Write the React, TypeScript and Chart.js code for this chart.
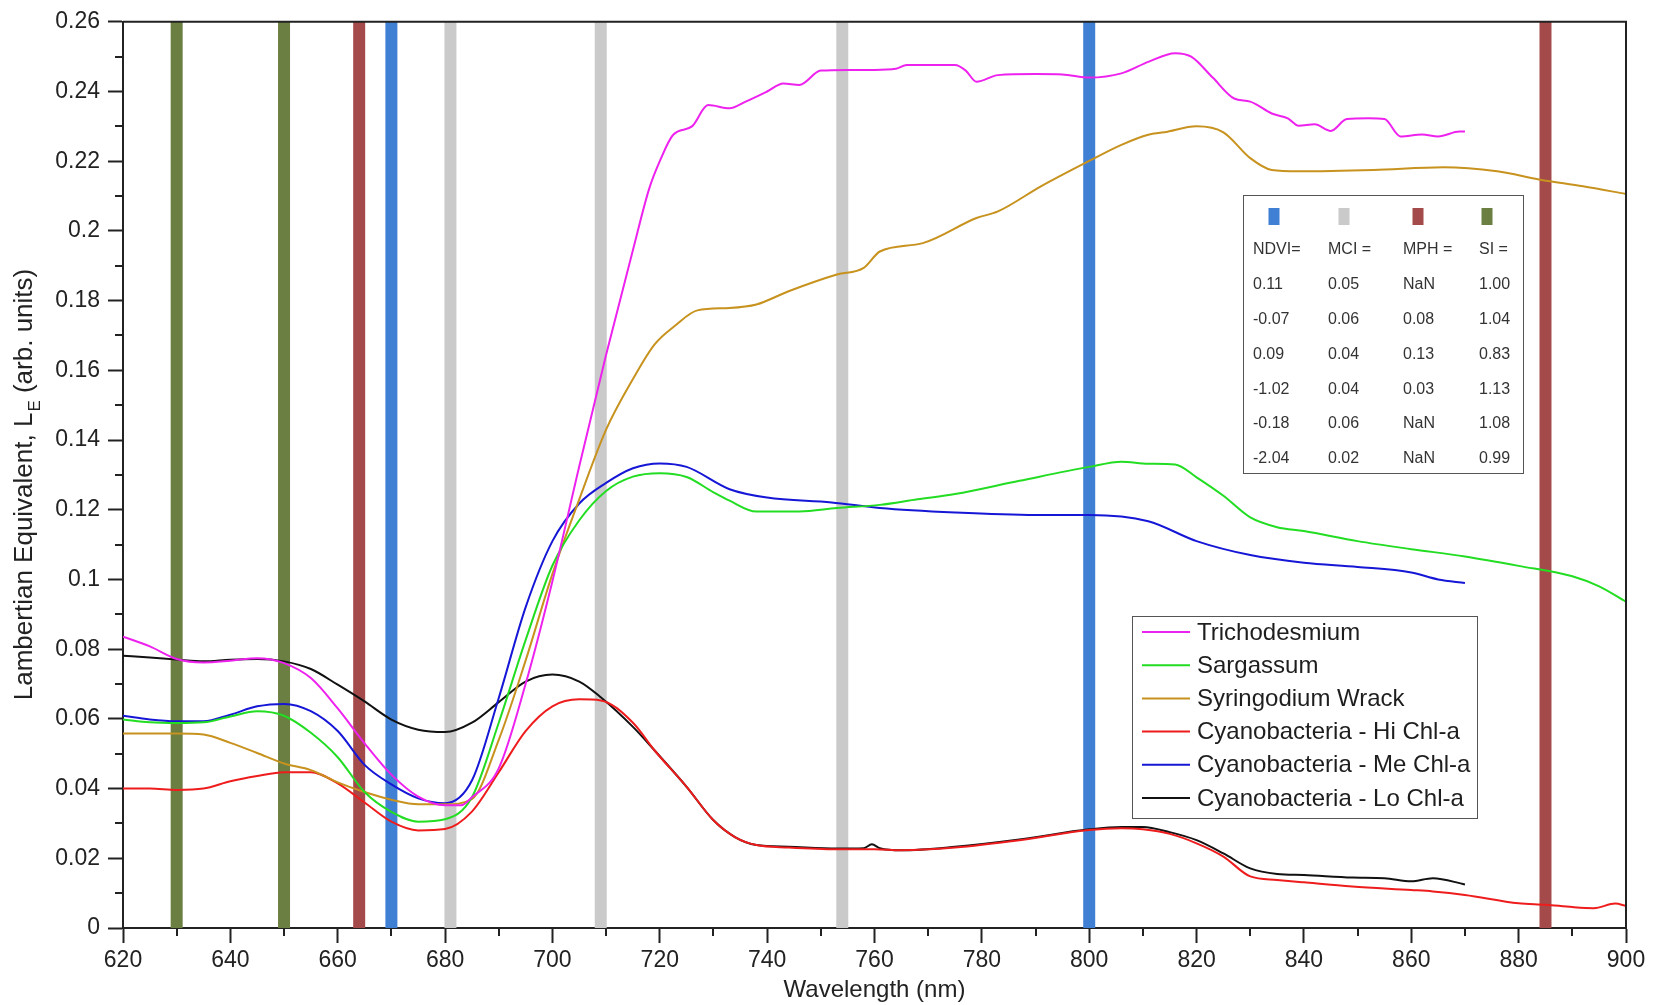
import React, { useEffect, useRef } from "react";
import { Chart, registerables } from "chart.js";

Chart.register(...registerables);

const FONT = "'Liberation Sans', Arial, Helvetica, sans-serif";

// ---------------- data ----------------
const seriesNames = [
  "Trichodesmium",
  "Sargassum",
  "Syringodium Wrack",
  "Cyanobacteria - Hi Chl-a",
  "Cyanobacteria - Me Chl-a",
  "Cyanobacteria - Lo Chl-a",
];

const trichoNm = [620, 625, 630, 635, 640, 645, 650, 655, 660, 665, 670, 675, 680, 683, 685, 690, 695, 700, 705, 710, 715, 718, 720, 722.5, 726, 729, 733, 736, 740, 743, 746, 750, 755, 760, 764, 766, 770, 775, 777, 779, 783, 790, 795, 800, 806, 811, 816, 819, 823, 827, 830, 834, 837, 839, 842, 845, 848, 852, 855, 858, 862, 865, 869, 870];
const trichoLE = [0.0836, 0.0808, 0.0772, 0.0762, 0.0767, 0.0774, 0.076, 0.0717, 0.063, 0.053, 0.044, 0.0377, 0.0352, 0.0352, 0.0375, 0.0458, 0.07, 0.0995, 0.1325, 0.1645, 0.1945, 0.212, 0.22, 0.2276, 0.23, 0.2361, 0.2352, 0.2371, 0.24, 0.2423, 0.2419, 0.246, 0.2462, 0.2462, 0.2465, 0.2476, 0.2476, 0.2476, 0.246, 0.2428, 0.2447, 0.245, 0.2449, 0.244, 0.2452, 0.2485, 0.251, 0.25, 0.244, 0.238, 0.2371, 0.2337, 0.2323, 0.2302, 0.2306, 0.2287, 0.2321, 0.2323, 0.2321, 0.2271, 0.2277, 0.2271, 0.2285, 0.2285];

const sargNm = [620, 625, 630, 635, 640, 645, 650, 655, 660, 665, 670, 675, 680, 685, 690, 695, 700, 705, 710, 715, 720, 725, 730, 733, 738, 746, 753, 761, 768, 775, 787, 800, 806, 811, 816, 820, 825, 830, 835, 840, 850, 860, 870, 880, 890, 895, 900];
const sargLE = [0.0598, 0.059, 0.0588, 0.059, 0.0607, 0.0622, 0.0609, 0.056, 0.049, 0.039, 0.0333, 0.0305, 0.0312, 0.0375, 0.0589, 0.0826, 0.104, 0.117, 0.1254, 0.1295, 0.1305, 0.1294, 0.125, 0.1226, 0.1195, 0.1195, 0.1205, 0.1214, 0.123, 0.1245, 0.1283, 0.1323, 0.1338, 0.1332, 0.133, 0.1293, 0.124, 0.1178, 0.115, 0.1139, 0.111, 0.1087, 0.1066, 0.1039, 0.1009, 0.098, 0.0936];

const syrNm = [620, 625, 630, 635, 640, 645, 650, 655, 660, 665, 670, 675, 680, 685, 690, 695, 700, 705, 710, 715, 719, 723, 727, 733, 738, 744, 753, 758, 761, 769, 779, 783, 791, 800, 806, 811, 814, 820, 825, 830, 834, 839, 853, 866, 876, 884, 892, 900];
const syrLE = [0.0558, 0.0558, 0.0558, 0.0555, 0.0531, 0.0502, 0.0472, 0.0453, 0.0418, 0.039, 0.0368, 0.0355, 0.0355, 0.037, 0.054, 0.0767, 0.1016, 0.123, 0.143, 0.1575, 0.1674, 0.173, 0.1772, 0.1779, 0.1789, 0.1827, 0.1875, 0.1894, 0.1941, 0.1965, 0.2037, 0.2056, 0.2128, 0.2201, 0.2247, 0.2276, 0.2283, 0.23, 0.2283, 0.2209, 0.2175, 0.2171, 0.2175, 0.2183, 0.2171, 0.2147, 0.2128, 0.2106];

const hiNm = [620, 625, 630, 635, 640, 645, 650, 655, 660, 665, 670, 675, 680, 685, 690, 695, 700, 705, 709, 715, 719, 725, 730, 734, 738, 744, 753, 760, 765, 775, 787, 800, 806, 810, 815, 820, 825, 830, 835, 840, 849, 860, 864, 870, 880, 885, 890, 894, 898, 900];
const hiLE = [0.04, 0.04, 0.0396, 0.04, 0.0421, 0.0436, 0.0447, 0.0447, 0.0415, 0.036, 0.0305, 0.028, 0.0284, 0.0334, 0.0447, 0.0565, 0.0636, 0.0656, 0.0653, 0.0589, 0.051, 0.0405, 0.0309, 0.0261, 0.0238, 0.0231, 0.0226, 0.0226, 0.0223, 0.0231, 0.0252, 0.0281, 0.0286, 0.0283, 0.027, 0.0243, 0.0205, 0.0148, 0.0138, 0.0131, 0.0119, 0.0109, 0.0105, 0.0095, 0.0071, 0.0067, 0.006, 0.0057, 0.007, 0.0063];

const meNm = [620, 625, 630, 635, 640, 645, 650, 655, 660, 665, 670, 675, 680, 685, 690, 695, 700, 705, 710, 715, 720, 725, 733, 740, 752, 761, 775, 790, 800, 811, 820, 830, 840, 850, 860, 865, 870];
const meLE = [0.0609, 0.0598, 0.0593, 0.0593, 0.0612, 0.0636, 0.0643, 0.0622, 0.0565, 0.0468, 0.0412, 0.0372, 0.0358, 0.0423, 0.066, 0.092, 0.111, 0.1218, 0.1277, 0.1319, 0.1333, 0.1323, 0.1259, 0.1235, 0.1221, 0.1205, 0.1192, 0.1185, 0.1185, 0.1167, 0.111, 0.107, 0.1048, 0.1036, 0.102, 0.1, 0.099];

const loNm = [620, 625, 630, 635, 640, 645, 650, 655, 660, 665, 670, 675, 680, 685, 690, 695, 700, 705, 709, 715, 719, 725, 730, 734, 738, 744, 753, 758, 759.5, 761, 765, 775, 787, 800, 806, 810, 815, 820, 825, 830, 835, 840, 849, 855, 860, 864, 870];
const loLE = [0.0781, 0.0776, 0.077, 0.0765, 0.077, 0.0772, 0.0765, 0.0743, 0.0698, 0.065, 0.0598, 0.0569, 0.0562, 0.0589, 0.0648, 0.0707, 0.0727, 0.0707, 0.0662, 0.0577, 0.051, 0.0405, 0.0309, 0.0261, 0.0238, 0.0233, 0.0228, 0.0229, 0.024, 0.0229, 0.0223, 0.0233, 0.0254, 0.0283, 0.029, 0.029, 0.0275, 0.0252, 0.0214, 0.0171, 0.0155, 0.0152, 0.0145, 0.0143, 0.0134, 0.0143, 0.0125];

const seriesNm = [trichoNm, sargNm, syrNm, hiNm, meNm, loNm];
const seriesLE = [trichoLE, sargLE, syrLE, hiLE, meLE, loLE];

// index bands (wavelength, index family)
const bandNm = [630, 650, 664, 670, 681, 709, 754, 800, 885];
const bandIndex = ["SI", "SI", "MPH", "NDVI", "MCI", "MCI", "MCI", "NDVI", "MPH"];

// index table
const tableIndices = ["NDVI", "MCI", "MPH", "SI"];
const tableHeaders = ["NDVI=", "MCI =", "MPH =", "SI ="];
const ndviValues = ["0.11", "-0.07", "0.09", "-1.02", "-0.18", "-2.04"];
const mciValues = ["0.05", "0.06", "0.04", "0.04", "0.06", "0.02"];
const mphValues = ["NaN", "0.08", "0.13", "0.03", "NaN", "NaN"];
const siValues = ["1.00", "1.04", "0.83", "1.13", "1.08", "0.99"];
const tableColumns = [ndviValues, mciValues, mphValues, siValues];

// axes
const xTicks = [620, 640, 660, 680, 700, 720, 740, 760, 780, 800, 820, 840, 860, 880, 900];
const xMinorTicks = [630, 650, 670, 690, 710, 730, 750, 770, 790, 810, 830, 850, 870, 890];
const yTicks = [0, 0.02, 0.04, 0.06, 0.08, 0.1, 0.12, 0.14, 0.16, 0.18, 0.2, 0.22, 0.24, 0.26];
const yTickLabels = ["0", "0.02", "0.04", "0.06", "0.08", "0.1", "0.12", "0.14", "0.16", "0.18", "0.2", "0.22", "0.24", "0.26"];
const yMinorTicks = [0.01, 0.03, 0.05, 0.07, 0.09, 0.11, 0.13, 0.15, 0.17, 0.19, 0.21, 0.23, 0.25];
const xTitle = "Wavelength (nm)";
const yTitleMain = "Lambertian Equivalent, L";
const yTitleSub = "E";
const yTitleEnd = " (arb. units)";

// ---------------- styles ----------------
const seriesColors = ["#ee22ee", "#22dd22", "#c8921e", "#ee1c1c", "#1616d6", "#111111"];
const indexColors: Record<string, string> = {
  NDVI: "#3f7fd4",
  MCI: "#cacaca",
  MPH: "#a44a4a",
  SI: "#6b7f43",
};
const AXIS = "#222222";

const decorPlugin = {
  id: "decor",
  afterDatasetsDraw(chart: any) {
    const { ctx, chartArea: ca, scales } = chart;
    ctx.save();
    // frame top/right
    ctx.strokeStyle = AXIS;
    ctx.lineWidth = 2;
    ctx.beginPath();
    ctx.moveTo(ca.left, ca.top);
    ctx.lineTo(ca.right, ca.top);
    ctx.lineTo(ca.right, ca.bottom);
    ctx.stroke();
    // minor ticks
    ctx.beginPath();
    for (const v of xMinorTicks) {
      const px = Math.round(scales.x.getPixelForValue(v));
      ctx.moveTo(px, ca.bottom);
      ctx.lineTo(px, ca.bottom + 8);
    }
    for (const v of yMinorTicks) {
      const py = Math.round(scales.y.getPixelForValue(v));
      ctx.moveTo(ca.left, py);
      ctx.lineTo(ca.left - 8, py);
    }
    ctx.stroke();

    // y title with subscript
    ctx.save();
    ctx.translate(25, 485);
    ctx.rotate(-Math.PI / 2);
    ctx.fillStyle = AXIS;
    ctx.textBaseline = "middle";
    ctx.textAlign = "left";
    const mainFont = `26px ${FONT}`;
    const subFont = `17px ${FONT}`;
    ctx.font = mainFont;
    const w1 = ctx.measureText(yTitleMain).width;
    const w3 = ctx.measureText(yTitleEnd).width;
    ctx.font = subFont;
    const w2 = ctx.measureText(yTitleSub).width;
    let x = -(w1 + w2 + w3) / 2;
    ctx.font = mainFont;
    ctx.fillText(yTitleMain, x, 0);
    x += w1;
    ctx.font = subFont;
    ctx.fillText(yTitleSub, x + 1, 10);
    x += w2 + 1;
    ctx.font = mainFont;
    ctx.fillText(yTitleEnd, x, 0);
    ctx.restore();

    // legend box
    const lx = 1132, ly = 616, lw = 345, lh = 202;
    ctx.fillStyle = "#ffffff";
    ctx.fillRect(lx, ly, lw, lh);
    ctx.strokeStyle = "#555555";
    ctx.lineWidth = 1;
    ctx.strokeRect(lx + 0.5, ly + 0.5, lw, lh);
    ctx.font = `24px ${FONT}`;
    ctx.textBaseline = "middle";
    ctx.textAlign = "left";
    seriesNames.forEach((name, i) => {
      const ry = 632 + i * 33.2;
      ctx.strokeStyle = seriesColors[i];
      ctx.lineWidth = 2;
      ctx.beginPath();
      ctx.moveTo(1142, ry);
      ctx.lineTo(1190, ry);
      ctx.stroke();
      ctx.fillStyle = "#1e1e1e";
      ctx.fillText(name, 1197, ry + 1);
    });

    // index table
    const tx = 1243, ty = 195, tw = 280, th = 278;
    ctx.fillStyle = "#ffffff";
    ctx.fillRect(tx, ty, tw, th);
    ctx.strokeStyle = "#555555";
    ctx.lineWidth = 1;
    ctx.strokeRect(tx + 0.5, ty + 0.5, tw, th);
    const swatchX = [1274, 1344, 1418, 1487];
    const colX = [1253, 1328, 1403, 1479];
    tableIndices.forEach((k, c) => {
      ctx.fillStyle = indexColors[k];
      ctx.fillRect(swatchX[c] - 5.5, 208, 11, 17);
    });
    ctx.font = `16px ${FONT}`;
    ctx.fillStyle = "#333333";
    tableHeaders.forEach((h, c) => ctx.fillText(h, colX[c], 250));
    tableColumns.forEach((col, c) => {
      col.forEach((val, r) => {
        ctx.fillText(val, colX[c], 285 + r * 34.7);
      });
    });

    ctx.restore();
  },
};

export default function App() {
  const ref = useRef<HTMLCanvasElement | null>(null);

  useEffect(() => {
    if (!ref.current) return;
    const curveSets = seriesNames.map((name, i) => ({
      label: name,
      data: seriesNm[i].map((nm, j) => ({ x: nm, y: seriesLE[i][j] })),
      borderColor: seriesColors[i],
      backgroundColor: seriesColors[i],
      borderWidth: 2,
      pointRadius: 0,
      cubicInterpolationMode: "monotone" as const,
      fill: false,
      order: 0,
    }));
    const yMax = yTicks[yTicks.length - 1];
    const bandSets = bandNm.map((nm, i) => ({
      label: `${bandIndex[i]} band ${nm}`,
      data: [
        { x: nm, y: yTicks[0] },
        { x: nm, y: yMax },
      ],
      borderColor: indexColors[bandIndex[i]],
      backgroundColor: indexColors[bandIndex[i]],
      borderWidth: 12,
      borderCapStyle: "butt" as const,
      pointRadius: 0,
      tension: 0,
      fill: false,
      order: 1,
    }));

    const tickFont = { family: FONT, size: 23 };
    const chart = new Chart(ref.current, {
      type: "line",
      data: { datasets: [...curveSets, ...bandSets] as any },
      options: {
        responsive: false,
        animation: false,
        devicePixelRatio: 1,
        layout: { padding: { top: 20, right: 29, left: 0, bottom: 0 } },
        plugins: {
          legend: { display: false },
          tooltip: { enabled: false },
        },
        elements: { point: { radius: 0 } },
        scales: {
          x: {
            type: "linear",
            min: xTicks[0],
            max: xTicks[xTicks.length - 1],
            afterBuildTicks: (s: any) => {
              s.ticks = xTicks.map((v) => ({ value: v }));
            },
            afterFit: (s: any) => {
              s.height = 77;
            },
            ticks: {
              font: tickFont,
              color: AXIS,
              padding: 4,
              maxRotation: 0,
              autoSkip: false,
              callback: (v: any) => String(v),
            },
            grid: {
              display: true,
              drawOnChartArea: false,
              drawTicks: true,
              tickLength: 15,
              tickWidth: 2,
              tickColor: AXIS,
            },
            border: { display: true, color: AXIS, width: 2 },
            title: {
              display: true,
              text: xTitle,
              color: AXIS,
              font: { family: FONT, size: 24 },
              padding: { top: 0, bottom: 0 },
            },
          },
          y: {
            type: "linear",
            min: yTicks[0],
            max: yMax,
            afterBuildTicks: (s: any) => {
              s.ticks = yTicks.map((v) => ({ value: v }));
            },
            afterFit: (s: any) => {
              s.width = 123;
            },
            ticks: {
              font: tickFont,
              color: AXIS,
              padding: 8,
              autoSkip: false,
              callback: (_v: any, idx: number) => yTickLabels[idx],
            },
            grid: {
              display: true,
              drawOnChartArea: false,
              drawTicks: true,
              tickLength: 15,
              tickWidth: 2,
              tickColor: AXIS,
            },
            border: { display: true, color: AXIS, width: 2 },
          },
        },
      },
      plugins: [decorPlugin],
    });
    return () => chart.destroy();
  }, []);

  return (
    <div
      style={{
        position: "absolute",
        left: 0,
        top: 0,
        width: 1655,
        height: 1005,
        background: "#ffffff",
      }}
    >
      <canvas ref={ref} width={1655} height={1005} style={{ width: 1655, height: 1005, display: "block" }} />
    </div>
  );
}
